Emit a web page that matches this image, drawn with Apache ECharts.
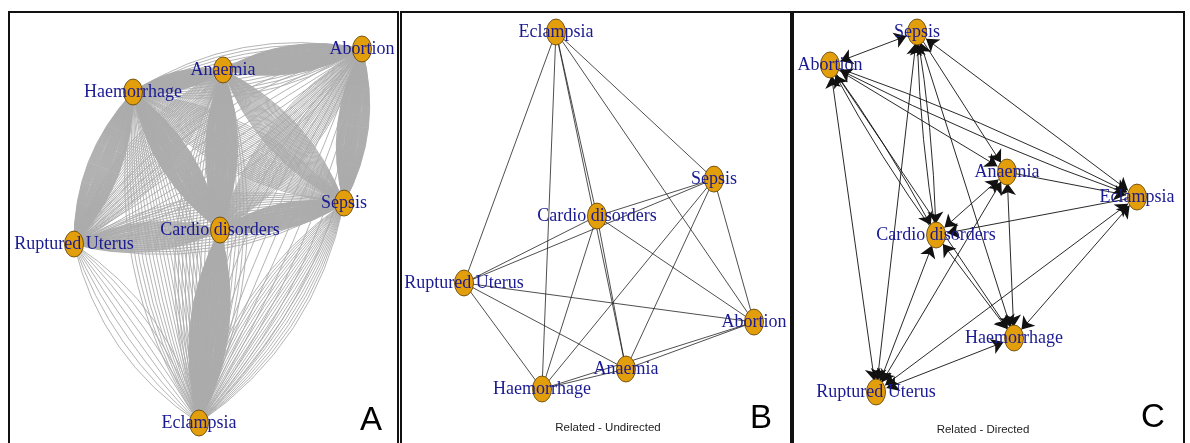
<!DOCTYPE html>
<html>
<head>
<meta charset="utf-8">
<script src="https://cdn.jsdelivr.net/npm/echarts@6/dist/echarts.min.js"></script>
<style>
  html, body { margin: 0; padding: 0; background: #ffffff; }
  #chart { width: 1190px; height: 443px; }
</style>
</head>
<body>
<div id="chart"></div>
<script>
// Maternal conditions shown as nodes in every panel
const conditions = ['Abortion', 'Anaemia', 'Haemorrhage', 'Sepsis', 'Cardio disorders', 'Ruptured Uterus', 'Eclampsia'];

// Node layouts, scaled to [-1, 1] on both axes
const layoutA = {
  'Abortion': [1.0, 1.0],
  'Anaemia': [0.035, 0.888],
  'Haemorrhage': [-0.59, 0.77],
  'Sepsis': [0.875, 0.176],
  'Cardio disorders': [0.014, 0.032],
  'Ruptured Uterus': [-1.0, -0.043],
  'Eclampsia': [-0.132, -1.0]
};
const layoutB = {
  'Eclampsia': [-0.366, 1.0],
  'Sepsis': [0.724, 0.176],
  'Cardio disorders': [-0.083, -0.031],
  'Ruptured Uterus': [-1.0, -0.406],
  'Abortion': [1.0, -0.625],
  'Anaemia': [0.117, -0.888],
  'Haemorrhage': [-0.462, -1.0]
};
const layoutC = {
  'Sepsis': [-0.433, 1.0],
  'Abortion': [-1.0, 0.817],
  'Anaemia': [0.153, 0.222],
  'Eclampsia': [1.0, 0.083],
  'Cardio disorders': [-0.309, -0.128],
  'Haemorrhage': [0.199, -0.7],
  'Ruptured Uterus': [-0.7, -1.0]
};

// Panel A: number of co-occurrence edges between each pair of conditions
const coOccurrenceA = [
  ['Haemorrhage', 'Anaemia', 60],
  ['Anaemia', 'Abortion', 80],
  ['Haemorrhage', 'Abortion', 15],
  ['Haemorrhage', 'Cardio disorders', 80],
  ['Anaemia', 'Cardio disorders', 70],
  ['Haemorrhage', 'Ruptured Uterus', 60],
  ['Cardio disorders', 'Eclampsia', 100],
  ['Abortion', 'Sepsis', 70],
  ['Cardio disorders', 'Sepsis', 50],
  ['Anaemia', 'Sepsis', 40],
  ['Abortion', 'Cardio disorders', 30],
  ['Ruptured Uterus', 'Cardio disorders', 30],
  ['Haemorrhage', 'Sepsis', 25],
  ['Ruptured Uterus', 'Sepsis', 20],
  ['Ruptured Uterus', 'Anaemia', 25],
  ['Haemorrhage', 'Eclampsia', 20],
  ['Anaemia', 'Eclampsia', 20],
  ['Sepsis', 'Eclampsia', 20],
  ['Ruptured Uterus', 'Eclampsia', 8],
  ['Abortion', 'Eclampsia', 10],
  ['Ruptured Uterus', 'Abortion', 10]
];

// Panel B: related pairs (undirected)
const relatedB = [
  ['Eclampsia', 'Ruptured Uterus'],
  ['Eclampsia', 'Haemorrhage'],
  ['Eclampsia', 'Cardio disorders'],
  ['Eclampsia', 'Anaemia'],
  ['Eclampsia', 'Abortion'],
  ['Eclampsia', 'Sepsis'],
  ['Sepsis', 'Cardio disorders'],
  ['Sepsis', 'Ruptured Uterus'],
  ['Cardio disorders', 'Ruptured Uterus'],
  ['Sepsis', 'Haemorrhage'],
  ['Sepsis', 'Anaemia'],
  ['Sepsis', 'Abortion'],
  ['Cardio disorders', 'Abortion'],
  ['Cardio disorders', 'Haemorrhage'],
  ['Cardio disorders', 'Anaemia'],
  ['Ruptured Uterus', 'Abortion'],
  ['Ruptured Uterus', 'Anaemia'],
  ['Ruptured Uterus', 'Haemorrhage'],
  ['Haemorrhage', 'Anaemia'],
  ['Haemorrhage', 'Abortion'],
  ['Anaemia', 'Abortion']
];

// Panel C: related pairs (directed); third field marks arrows at both ends
const relatedC = [
  ['Abortion', 'Sepsis', 1],
  ['Abortion', 'Eclampsia', 0],
  ['Eclampsia', 'Abortion', 0],
  ['Abortion', 'Anaemia', 0],
  ['Abortion', 'Cardio disorders', 0],
  ['Cardio disorders', 'Abortion', 0],
  ['Abortion', 'Haemorrhage', 0],
  ['Abortion', 'Ruptured Uterus', 1],
  ['Sepsis', 'Eclampsia', 1],
  ['Sepsis', 'Anaemia', 0],
  ['Sepsis', 'Cardio disorders', 0],
  ['Cardio disorders', 'Sepsis', 0],
  ['Sepsis', 'Haemorrhage', 1],
  ['Ruptured Uterus', 'Sepsis', 1],
  ['Anaemia', 'Eclampsia', 0],
  ['Anaemia', 'Cardio disorders', 1],
  ['Anaemia', 'Haemorrhage', 1],
  ['Ruptured Uterus', 'Anaemia', 1],
  ['Eclampsia', 'Cardio disorders', 0],
  ['Ruptured Uterus', 'Eclampsia', 1],
  ['Eclampsia', 'Haemorrhage', 1],
  ['Cardio disorders', 'Haemorrhage', 1],
  ['Ruptured Uterus', 'Cardio disorders', 1],
  ['Ruptured Uterus', 'Haemorrhage', 1]
];

const panelLetters = ['A', 'B', 'C'];
const panelCaptions = ['', 'Related - Undirected', 'Related - Directed'];

// ---------------------------------------------------------------------------

const NODE_COLOR = '#E39E0C';
const LABEL_COLOR = '#1a1a92';

function nodesFrom(layout) {
  return conditions.map(name => ({ name: name, value: layout[name] }));
}

// Spread parallel edges of a bundle symmetrically between -maxCurve and +maxCurve
function bundleLinks(pairs, maxCurve) {
  const links = [];
  pairs.forEach(([s, t, n]) => {
    for (let i = 0; i < n; i++) {
      const c = n > 1 ? -maxCurve + (2 * maxCurve * i) / (n - 1) : 0;
      links.push({ source: s, target: t, lineStyle: { curveness: c } });
    }
  });
  return links;
}

// Reversed pairs get the same small curveness so they sit side by side
function directedLinks(pairs) {
  const keyOf = (a, b) => [a, b].sort().join('|');
  const counts = {};
  pairs.forEach(([s, t]) => { const k = keyOf(s, t); counts[k] = (counts[k] || 0) + 1; });
  return pairs.map(([s, t, both]) => ({
    source: s,
    target: t,
    symbol: both ? ['arrow', 'arrow'] : ['none', 'arrow'],
    lineStyle: { curveness: counts[keyOf(s, t)] > 1 ? 0.035 : 0 }
  }));
}

function undirectedLinks(pairs) {
  return pairs.map(([s, t]) => ({ source: s, target: t }));
}

const nodeStyle = {
  symbol: 'circle',
  symbolSize: [19, 26],
  itemStyle: { color: NODE_COLOR, borderColor: '#5b3d05', borderWidth: 0.8 },
  label: {
    show: true,
    position: 'inside',
    color: LABEL_COLOR,
    fontFamily: 'Liberation Serif',
    fontSize: 18
  }
};

const grids = [
  { left: 74, top: 49, width: 288, height: 374 },
  { left: 464, top: 32, width: 290, height: 357 },
  { left: 830, top: 32, width: 307, height: 360 }
];

const axisBase = { type: 'value', min: -1, max: 1, show: false };

const chart = echarts.init(document.getElementById('chart'), null, { renderer: 'canvas' });

const borderRects = [
  { x: 9, y: 12, w: 389 },
  { x: 401, y: 12, w: 390 },
  { x: 793, y: 12, w: 391 }
];

const graphics = [];
borderRects.forEach(r => {
  graphics.push({
    type: 'rect', silent: true, z: 100,
    shape: { x: r.x, y: r.y, width: r.w, height: 460 },
    style: { fill: 'none', stroke: '#111', lineWidth: 2 }
  });
});
const letterPos = [[371, 421], [761, 419], [1153, 418]];
panelLetters.forEach((L, i) => {
  graphics.push({
    type: 'text', silent: true, z: 100,
    x: letterPos[i][0], y: letterPos[i][1],
    style: {
      text: L, fill: '#000', font: '33px "Liberation Sans", Arial, sans-serif',
      align: 'center', verticalAlign: 'middle'
    }
  });
});
const captionPos = [[0, 0], [608, 428], [983, 430]];
panelCaptions.forEach((t, i) => {
  if (!t) return;
  graphics.push({
    type: 'text', silent: true, z: 100,
    x: captionPos[i][0], y: captionPos[i][1],
    style: {
      text: t, fill: '#222', font: '11.5px "Liberation Sans", Arial, sans-serif',
      align: 'center', verticalAlign: 'middle'
    }
  });
});

chart.setOption({
  animation: false,
  backgroundColor: '#ffffff',
  grid: grids,
  xAxis: grids.map((g, i) => Object.assign({ gridIndex: i }, axisBase)),
  yAxis: grids.map((g, i) => Object.assign({ gridIndex: i }, axisBase)),
  graphic: graphics,
  series: [
    Object.assign({
      type: 'graph', layout: 'none', coordinateSystem: 'cartesian2d',
      xAxisIndex: 0, yAxisIndex: 0, silent: true,
      data: nodesFrom(layoutA),
      links: bundleLinks(coOccurrenceA, 0.2),
      lineStyle: { color: '#ABABAB', width: 0.9, opacity: 1 },
      edgeSymbol: ['none', 'none']
    }, nodeStyle),
    Object.assign({
      type: 'graph', layout: 'none', coordinateSystem: 'cartesian2d',
      xAxisIndex: 1, yAxisIndex: 1, silent: true,
      data: nodesFrom(layoutB),
      links: undirectedLinks(relatedB),
      lineStyle: { color: '#222', width: 0.8, opacity: 1 },
      edgeSymbol: ['none', 'none']
    }, nodeStyle),
    Object.assign({
      type: 'graph', layout: 'none', coordinateSystem: 'cartesian2d',
      xAxisIndex: 2, yAxisIndex: 2, silent: true,
      data: nodesFrom(layoutC),
      links: directedLinks(relatedC),
      lineStyle: { color: '#111', width: 0.9, opacity: 1 },
      edgeSymbol: ['none', 'arrow'],
      edgeSymbolSize: 12
    }, nodeStyle)
  ]
});
</script>
</body>
</html>
